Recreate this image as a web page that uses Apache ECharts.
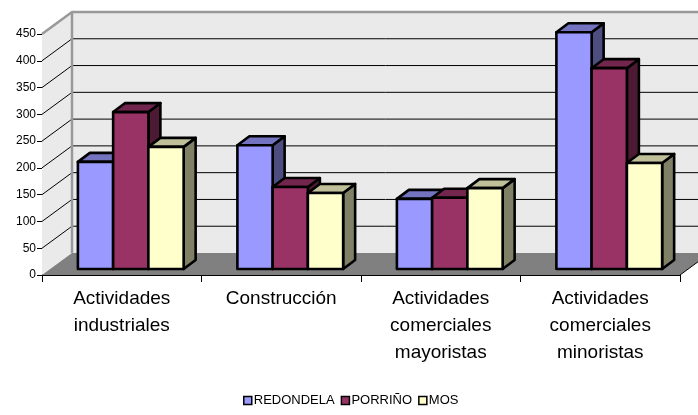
<!DOCTYPE html>
<html>
<head>
<meta charset="utf-8">
<script src="https://cdn.jsdelivr.net/npm/echarts@6/dist/echarts.min.js"></script>
<style>
	html, body { margin: 0; padding: 0; background: #fff; }
	#chart_container { width: 698px; height: 415px; }
</style>
</head>
<body>
<div id="chart_container"></div>
<script>
const categories = [
	"Actividades\nindustriales",
	"Construcción",
	"Actividades\ncomerciales\nmayoristas",
	"Actividades\ncomerciales\nminoristas",
]
const redondela = [200, 231, 131, 442]
const porrino = [293, 153, 133, 375]
const mos = [228, 142, 151, 198]
const yMax = 450
const yStep = 50

const font = "'Liberation Sans', Arial, sans-serif"
// oblique depth of the walls and of the bars
const wallDepth = [30, -22]
const barShift = -6
const barDepth = [12, -9]

const palette = {
	REDONDELA: { front: "#9999FF", top: "#7373BF", side: "#4D4D80" },
	"PORRIÑO": { front: "#993366", top: "#73264D", side: "#4D1A33" },
	MOS: { front: "#FFFFCC", top: "#BFBF99", side: "#808066" },
}

function renderWalls(params, api) {
	const band = api.size([1, 0])[0]
	const c0 = api.coord([0, 0])
	const x0 = c0[0] - band / 2
	const x1 = x0 + band * categories.length
	const yB = c0[1]
	const yT = api.coord([0, yMax])[1]
	const [dx, dy] = wallDepth
	const children = [
		{
			type: "polygon",
			shape: { points: [[x0, yB], [x0, yT], [x0 + dx, yT + dy], [x0 + dx, yB + dy]] },
			style: { fill: "#EAEAEA" },
		},
		{
			type: "polygon",
			shape: { points: [[x0 + dx, yT + dy], [x1 + dx, yT + dy], [x1 + dx, yB + dy], [x0 + dx, yB + dy]] },
			style: { fill: "#EAEAEA" },
		},
		{
			type: "polygon",
			shape: { points: [[x0, yB], [x0 + dx, yB + dy], [x1 + dx, yB + dy], [x1, yB]] },
			style: { fill: "#808080" },
		},
	]
	for (let v = yStep; v < yMax; v += yStep) {
		const y = api.coord([0, v])[1]
		children.push({
			type: "line",
			shape: { x1: x0, y1: y, x2: x0 + dx, y2: y + dy },
			style: { stroke: "#000", lineWidth: 1 },
		})
		children.push({
			type: "line",
			shape: { x1: x0 + dx, y1: y + dy, x2: x1 + dx, y2: y + dy },
			style: { stroke: "#000", lineWidth: 1 },
		})
	}
	children.push({
		type: "polyline",
		shape: { points: [[x0, yT], [x0 + dx, yT + dy], [x1 + dx, yT + dy]] },
		style: { stroke: "#999", lineWidth: 2.5, fill: null },
	})
	children.push({
		type: "line",
		shape: { x1: x0 + dx, y1: yT + dy, x2: x0 + dx, y2: yB + dy },
		style: { stroke: "#999", lineWidth: 2.5 },
	})
	children.push({
		type: "line",
		shape: { x1: x1, y1: yB, x2: x1 + dx, y2: yB + dy },
		style: { stroke: "#000", lineWidth: 1 },
	})
	return { type: "group", children }
}

function makeBarRenderer(seriesIndex, colors) {
	return function (params, api) {
		const band = api.size([1, 0])[0]
		const pos = api.coord([api.value(0), api.value(1)])
		const base = api.coord([api.value(0), 0])
		const w = band * 0.221
		const left = base[0] - band / 2 + band * 0.225 + seriesIndex * w
		const right = left + w
		const top = pos[1] + barShift
		const bottom = base[1] + barShift
		const [dx, dy] = barDepth
		const line = { stroke: "#000", lineWidth: 2.6, lineJoin: "round" }
		return {
			type: "group",
			children: [
				{
					type: "polygon",
					shape: { points: [[right, bottom], [right, top], [right + dx, top + dy], [right + dx, bottom + dy]] },
					style: Object.assign({ fill: colors.side }, line),
				},
				{
					type: "polygon",
					shape: { points: [[left, top], [left + dx, top + dy], [right + dx, top + dy], [right, top]] },
					style: Object.assign({ fill: colors.top }, line),
				},
				{
					type: "rect",
					shape: { x: left, y: top, width: w, height: bottom - top },
					style: Object.assign({ fill: colors.front }, line),
				},
			],
		}
	}
}

function barSeries(name, values, index) {
	return {
		name,
		type: "custom",
		clip: false,
		z: 3 + index,
		itemStyle: { color: palette[name].front },
		renderItem: makeBarRenderer(index, palette[name]),
		encode: { x: 0, y: 1 },
		data: values.map((v, i) => [i, v]),
	}
}

const chart = echarts.init(document.getElementById("chart_container"))
chart.setOption({
	animation: false,
	textStyle: { fontFamily: font },
	grid: { left: 42, right: 18, top: 34, bottom: 140 },
	legend: {
		left: 238,
		bottom: 3,
		icon: "rect",
		itemWidth: 8,
		itemHeight: 8,
		itemGap: 6,
		itemStyle: { borderColor: "#000", borderWidth: 1.5 },
		textStyle: { fontSize: 13, color: "#000", fontFamily: font, padding: [0, 0, 0, -3] },
		data: ["REDONDELA", "PORRIÑO", "MOS"],
	},
	xAxis: {
		type: "category",
		data: categories,
		axisLine: { lineStyle: { color: "#000", width: 1 } },
		axisTick: { show: true, length: 7, lineStyle: { color: "#000" } },
		axisLabel: { fontSize: 19, lineHeight: 27, color: "#000", margin: 10, interval: 0, fontFamily: font },
	},
	yAxis: {
		type: "value",
		min: 0,
		max: yMax,
		interval: yStep,
		axisLine: { show: true, lineStyle: { color: "#000", width: 1 } },
		axisTick: { show: true, length: 5, lineStyle: { color: "#000" } },
		axisLabel: { fontSize: 12, color: "#000", margin: 6, fontFamily: font },
		splitLine: { show: false },
	},
	series: [
		{
			type: "custom",
			clip: false,
			silent: true,
			z: 1,
			renderItem: renderWalls,
			encode: { x: 0, y: 1 },
			data: [[0, 0]],
		},
		barSeries("REDONDELA", redondela, 0),
		barSeries("PORRIÑO", porrino, 1),
		barSeries("MOS", mos, 2),
	],
})
</script>
</body>
</html>
